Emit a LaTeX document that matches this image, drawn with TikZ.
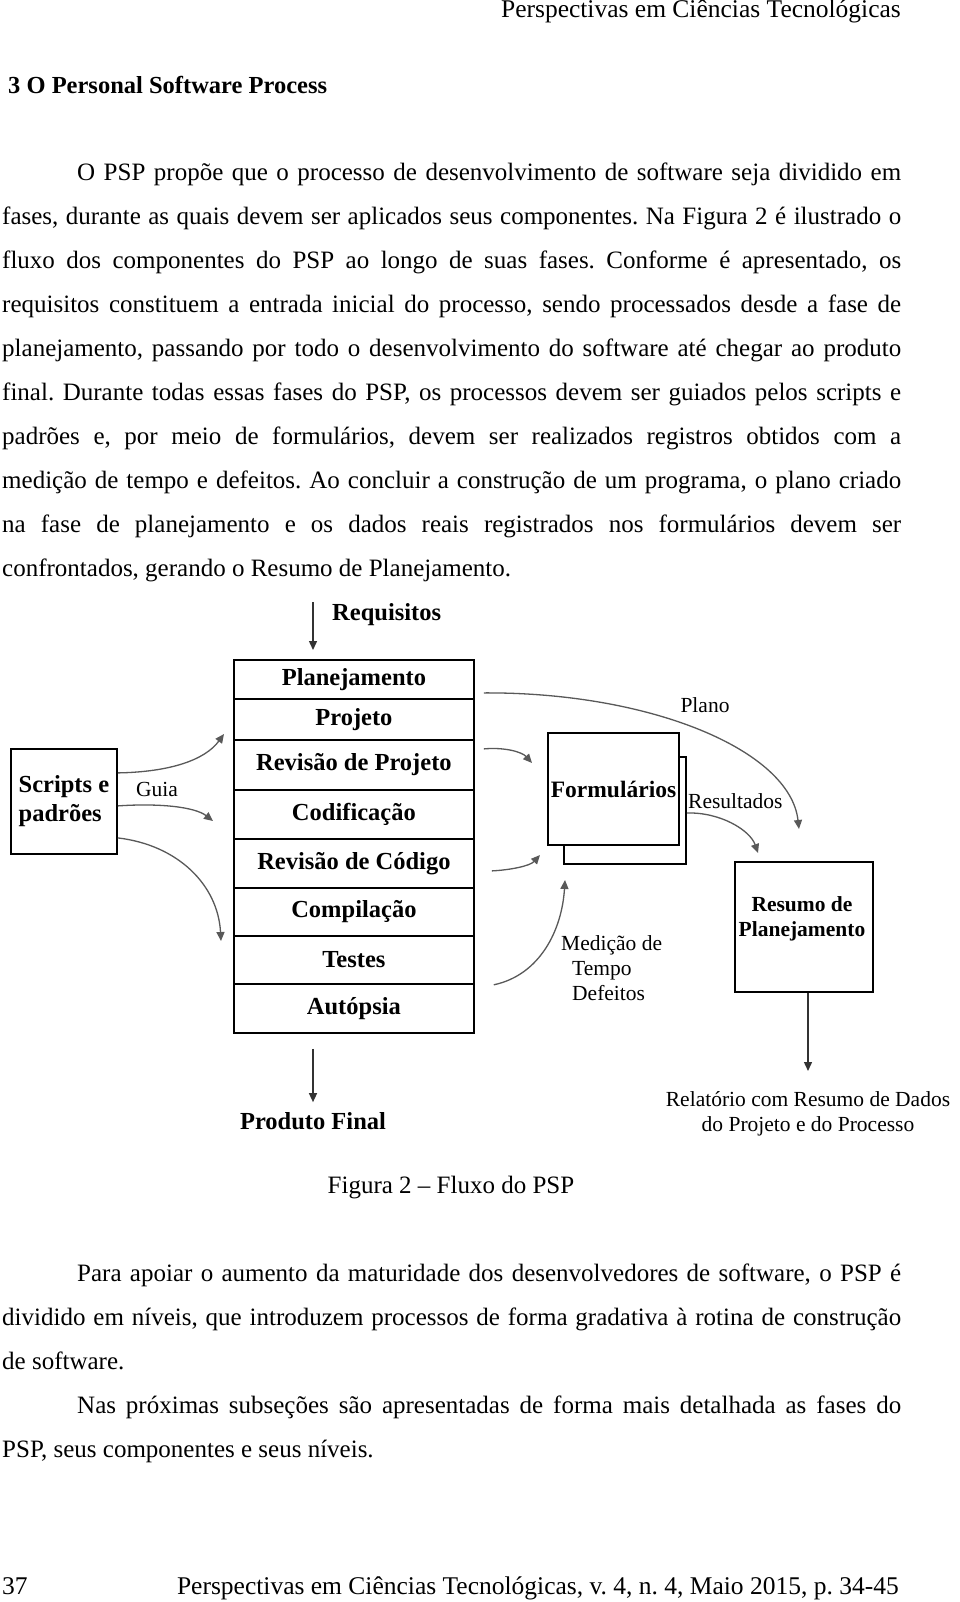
\documentclass[tikz,border=0pt]{standalone}
\usepackage{fontspec}
\setmainfont{Liberation Serif}
\usetikzlibrary{arrows.meta}
\frenchspacing

\begin{document}
\begin{tikzpicture}[x=1pt,y=-1pt,
  texto/.style={anchor=base west,inner sep=0pt,font=\fontsize{25}{30}\selectfont},
  fase/.style={draw,line width=1.8pt,anchor=north west,minimum width=240pt,inner sep=0pt,font=\fontsize{24.5}{29}\selectfont\bfseries},
  caixa/.style={draw,line width=1.8pt,fill=white,inner sep=0pt},
  rotulo/.style={inner sep=0pt,font=\fontsize{21.5}{25}\selectfont},
  negrito/.style={inner sep=0pt,font=\fontsize{24.5}{29}\selectfont\bfseries},
  seta/.style={draw=black!80,line width=1.4pt,-{Triangle[length=9pt,width=8pt]}},
  guia/.style={draw=black!65,line width=1.3pt,-{Triangle[length=9pt,width=8pt]}}]
\fill[white] (0,0) rectangle (960,1602);
\useasboundingbox (0,0) rectangle (960,1602);

\node[texto,font=\fontsize{25.5}{30}\selectfont,anchor=base east] (cabecalho) at (901,18) {Perspectivas em Ciências Tecnológicas};
\node[texto,font=\fontsize{24.5}{30}\selectfont\bfseries] (titulo) at (8,94) {3 O Personal Software Process};

\node[texto] (p1l1) at (77,181) {\makebox[824pt][s]{O PSP propõe que o processo de desenvolvimento de software seja dividido em}};
\foreach \linha [count=\i from 2] in {
  {fases, durante as quais devem ser aplicados seus componentes. Na Figura 2 é ilustrado o},
  {fluxo dos componentes do PSP ao longo de suas fases. Conforme é apresentado, os},
  {requisitos constituem a entrada inicial do processo, sendo processados desde a fase de},
  {planejamento, passando por todo o desenvolvimento do software até chegar ao produto},
  {final. Durante todas essas fases do PSP, os processos devem ser guiados pelos scripts e},
  {padrões e, por meio de formulários, devem ser realizados registros obtidos com a},
  {medição de tempo e defeitos. Ao concluir a construção de um programa, o plano criado},
  {na fase de planejamento e os dados reais registrados nos formulários devem ser}}
  \node[texto] (p1l\i) at (2,{181+43.9*(\i-1)}) {\makebox[899pt][s]{\linha}};
\node[texto] (p1l10) at (2,576.1) {confrontados, gerando o Resumo de Planejamento.};

% fases do PSP
\foreach \nome/\txt/\topo/\alt in {plan/Planejamento/659/39, proj/Projeto/698/41,
    revproj/Revisão de Projeto/739/50, cod/Codificação/789/49, revcod/Revisão de Código/838/49,
    comp/Compilação/887/48, test/Testes/935/48, aut/Autópsia/983/49}
  \node[fase,minimum height=\alt pt] (\nome) at (233,\topo) {\txt};

\node[negrito,anchor=west] (req) at (332,615) {Requisitos};
\coordinate (reqini) at (313,602);
\draw[seta,shorten >=9pt] (reqini) -- (reqini |- plan.north);
\node[negrito] (prod) at (313,1121) {Produto Final};
\draw[seta,shorten <=15pt,shorten >=10pt] (aut.south -| reqini) -- (prod.north);

\node[caixa,align=left,minimum width=106pt,minimum height=105pt,anchor=north west,
  font=\fontsize{24.5}{29}\selectfont\bfseries] (scripts) at (10,748) {Scripts e\\padrões};
\node[rotulo] (guialbl) at (157,789) {Guia};
\coordinate (g1) at (224,734);
\coordinate (g2) at (213,821);
\coordinate (g3) at (221,941);
\draw[guia] ([yshift=28.5pt]scripts.east) .. controls (170,772) and (205,760) .. (g1);
\draw[guia] ([yshift=-4.5pt]scripts.east) .. controls (160,803) and (195,807) .. (g2);
\draw[guia] ([yshift=-36.5pt]scripts.east) .. controls (178,845) and (218,885) .. (g3);

\node[caixa,minimum width=122pt,minimum height=107pt] (formfundo) at (625,810.5) {};
\node[caixa,minimum width=131pt,minimum height=112pt,
  font=\fontsize{23.5}{28}\selectfont\bfseries] (form) at (613.5,789) {Formulários};
\coordinate (f1) at (532,763);
\coordinate (f2) at (540,855);
\coordinate (f3) at (565,880);
\draw[guia] ([xshift=9pt,yshift=16pt]revproj.east) .. controls (505,747) and (522,752) .. (f1);
\draw[guia] ([xshift=17pt,yshift=-7.5pt]revcod.east) .. controls (510,870) and (530,866) .. (f2);
\draw[guia] ([xshift=19pt]test.south east) .. controls (540,975) and (562,930) .. (f3);
\node[rotulo,align=left,anchor=north west] (medicao) at (561,935) {Medição de\\\hspace*{11pt}Tempo\\\hspace*{11pt}Defeitos};

\node[rotulo] (plano) at (705,705) {Plano};
\coordinate (pfim) at (799,829);
\draw[guia] ([xshift=9pt,yshift=-13.5pt]plan.east) .. controls (650,692) and (790,750) .. (pfim);

\node[rotulo,anchor=west] (result) at (688,801) {Resultados};
\coordinate (rfim1) at (758,853);
\draw[guia] ([yshift=-2.5pt]formfundo.east) .. controls (720,812) and (750,830) .. (rfim1);

\node[caixa,minimum width=138pt,minimum height=130pt] (resumo) at (804,927) {};
\node[negrito,align=center,font=\fontsize{21.5}{24.5}\selectfont\bfseries] (resumotxt) at (802,919) {Resumo de\\Planejamento};
\coordinate (rfim) at (808,1071);
\draw[seta] (resumo.south -| rfim) -- (rfim);
\node[rotulo,align=center,anchor=north] (relat) at (808,1091) {Relatório com Resumo de Dados\\do Projeto e do Processo};

\node[texto,anchor=base] (legenda) at (451,1193) {Figura 2 – Fluxo do PSP};

\node[texto] (p2l1) at (77,1281.5) {\makebox[824pt][s]{Para apoiar o aumento da maturidade dos desenvolvedores de software, o PSP é}};
\node[texto] (p2l2) at (2,1325.4) {\makebox[899pt][s]{dividido em níveis, que introduzem processos de forma gradativa à rotina de construção}};
\node[texto] (p2l3) at (2,1369.3) {de software.};
\node[texto] (p3l1) at (77,1413.2) {\makebox[824pt][s]{Nas próximas subseções são apresentadas de forma mais detalhada as fases do}};
\node[texto] (p3l2) at (2,1457.1) {PSP, seus componentes e seus níveis.};

\node[texto,font=\fontsize{25.5}{30}\selectfont] (pagina) at (2,1594) {37};
\node[texto,font=\fontsize{25.5}{30}\selectfont,anchor=base east] (rodape) at (899,1594) {Perspectivas em Ciências Tecnológicas, v. 4, n. 4, Maio 2015, p. 34-45};
\end{tikzpicture}
\end{document}
